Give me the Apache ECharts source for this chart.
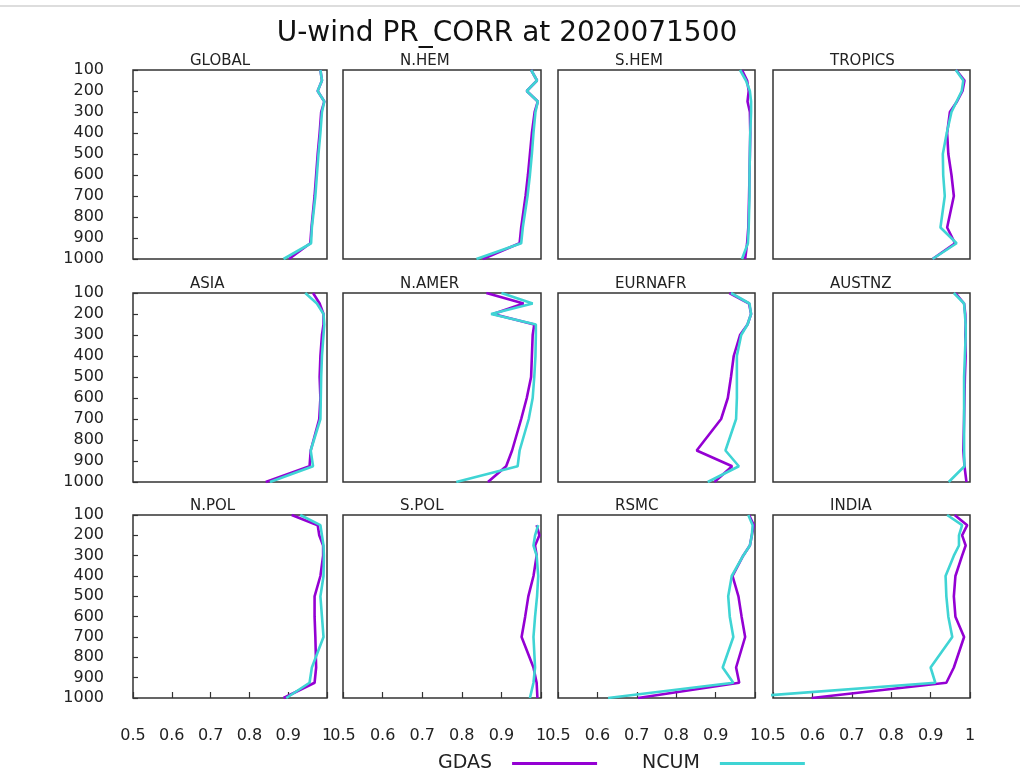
<!DOCTYPE html>
<html>
<head>
<meta charset="utf-8">
<script src="https://cdn.jsdelivr.net/npm/echarts@6/dist/echarts.min.js"></script>
<style>
  html, body { margin: 0; padding: 0; background: #fff; }
  #main { width: 1020px; height: 772px; }
</style>
</head>
<body>
<div id="main"></div>
<script>
// pressure levels (hPa)
var levels = [100, 150, 200, 250, 300, 400, 500, 600, 700, 850, 925, 1000];
var regions = ['GLOBAL', 'N.HEM', 'S.HEM', 'TROPICS',
               'ASIA', 'N.AMER', 'EURNAFR', 'AUSTNZ',
               'N.POL', 'S.POL', 'RSMC', 'INDIA'];
var xTicks = [0.5, 0.6, 0.7, 0.8, 0.9, 1];

// pattern correlation per region, one value per level
var gdas = {
  'GLOBAL':  [0.983, 0.987, 0.976, 0.993, 0.985, 0.981, 0.976, 0.972, 0.968, 0.960, 0.957, 0.902],
  'N.HEM':   [0.975, 0.990, 0.964, 0.992, 0.984, 0.977, 0.972, 0.967, 0.961, 0.950, 0.946, 0.853],
  'S.HEM':   [0.967, 0.980, 0.984, 0.981, 0.987, 0.988, 0.987, 0.986, 0.985, 0.983, 0.980, 0.975],
  'TROPICS': [0.965, 0.986, 0.981, 0.967, 0.949, 0.942, 0.945, 0.953, 0.959, 0.942, 0.962, 0.905],
  'ASIA':    [0.964, 0.981, 0.991, 0.991, 0.987, 0.983, 0.981, 0.983, 0.980, 0.958, 0.955, 0.842],
  'N.AMER':  [0.862, 0.956, 0.879, 0.983, 0.979, 0.977, 0.975, 0.964, 0.950, 0.927, 0.912, 0.866],
  'EURNAFR': [0.935, 0.985, 0.990, 0.981, 0.962, 0.946, 0.939, 0.931, 0.914, 0.852, 0.942, 0.897],
  'AUSTNZ':  [0.963, 0.985, 0.988, 0.989, 0.988, 0.989, 0.987, 0.986, 0.985, 0.983, 0.986, 0.991],
  'N.POL':   [0.909, 0.976, 0.980, 0.990, 0.990, 0.983, 0.968, 0.968, 0.970, 0.972, 0.968, 0.888],
  'S.POL':   [null, 0.989, 0.996, 0.985, 0.989, 0.981, 0.968, 0.960, 0.951, 0.981, 0.989, 0.991],
  'RSMC':    [0.985, 0.997, 0.992, 0.987, 0.970, 0.943, 0.958, 0.966, 0.975, 0.952, 0.960, 0.703],
  'INDIA':   [0.961, 0.993, 0.980, 0.989, 0.980, 0.963, 0.959, 0.963, 0.985, 0.959, 0.940, 0.598]
};
var ncum = {
  'GLOBAL':  [0.983, 0.987, 0.976, 0.993, 0.987, 0.983, 0.978, 0.974, 0.970, 0.961, 0.959, 0.888],
  'N.HEM':   [0.975, 0.990, 0.964, 0.992, 0.986, 0.981, 0.977, 0.972, 0.966, 0.954, 0.950, 0.837],
  'S.HEM':   [0.962, 0.977, 0.987, 0.990, 0.990, 0.988, 0.987, 0.986, 0.986, 0.984, 0.982, 0.967],
  'TROPICS': [0.964, 0.983, 0.979, 0.966, 0.953, 0.941, 0.931, 0.932, 0.936, 0.925, 0.966, 0.905],
  'ASIA':    [0.944, 0.974, 0.991, 0.993, 0.991, 0.987, 0.985, 0.984, 0.983, 0.958, 0.964, 0.853],
  'N.AMER':  [0.900, 0.979, 0.874, 0.987, 0.987, 0.986, 0.983, 0.979, 0.969, 0.946, 0.941, 0.786],
  'EURNAFR': [0.939, 0.986, 0.990, 0.981, 0.965, 0.954, 0.954, 0.954, 0.952, 0.925, 0.959, 0.880],
  'AUSTNZ':  [0.959, 0.985, 0.987, 0.989, 0.989, 0.987, 0.985, 0.985, 0.985, 0.985, 0.986, 0.946],
  'N.POL':   [0.931, 0.983, 0.987, 0.991, 0.992, 0.991, 0.983, 0.987, 0.991, 0.961, 0.955, 0.895],
  'S.POL':   [null, 0.993, 0.985, 0.981, 0.989, 0.993, 0.990, 0.985, 0.981, 0.985, 0.981, 0.972],
  'RSMC':    [0.983, 0.994, 0.992, 0.987, 0.970, 0.941, 0.932, 0.936, 0.945, 0.918, 0.945, 0.627],
  'INDIA':   [0.942, 0.980, 0.972, 0.972, 0.959, 0.938, 0.940, 0.945, 0.955, 0.900, 0.912, 0.400]
};

var GDAS_COLOR = '#9400d3';
var NCUM_COLOR = '#3fd4d4';
var FONT = '"DejaVu Sans", sans-serif';

var colLeft = [133, 343, 558, 773];
var colWidth = [194, 198, 197, 197];
var rowTop = [70, 293, 515];
var rowHeight = [189, 189, 183];

function profile(vals) {
  var out = [];
  vals.forEach(function (v, i) {
    if (v !== null) out.push([v, levels[i]]);
  });
  return out;
}

var grids = [], xAxes = [], yAxes = [], series = [];
var titles = [{
  text: 'U-wind PR_CORR at 2020071500',
  left: 507, top: 20, padding: 0, textAlign: 'center',
  textStyle: { fontFamily: FONT, fontSize: 28, fontWeight: 'normal', color: '#111' }
}];

regions.forEach(function (name, k) {
  var r = Math.floor(k / 4), c = k % 4;
  var isLeft = c === 0, isBottom = r === 2;
  grids.push({
    left: colLeft[c], top: rowTop[r], width: colWidth[c], height: rowHeight[r],
    show: true, borderColor: '#333', borderWidth: 1.5, backgroundColor: '#fff'
  });
  titles.push({
    text: name, left: colLeft[c] + 57, top: rowTop[r] - 16, padding: 0,
    textStyle: { fontFamily: FONT, fontSize: 15, fontWeight: 'normal', color: '#222' }
  });
  xAxes.push({
    type: 'value', gridIndex: k, min: 0.5, max: 1, interval: 0.1,
    axisLine: { show: false }, splitLine: { show: false },
    axisTick: { show: isBottom, inside: true, length: 6, lineStyle: { color: '#333', width: 1.2 } },
    axisLabel: {
      show: isBottom, margin: 30, fontFamily: FONT, fontSize: 16, color: '#222',
      formatter: function (v) { return String(+v.toFixed(1)); }
    }
  });
  yAxes.push({
    type: 'value', gridIndex: k, min: 100, max: 1000, interval: 100, inverse: true,
    axisLine: { show: false }, splitLine: { show: false },
    axisTick: { show: isLeft, inside: true, length: 5, lineStyle: { color: '#333', width: 1.2 } },
    axisLabel: {
      show: isLeft, margin: 29, fontFamily: FONT, fontSize: 16, color: '#222',
      formatter: function (v) { return String(Math.round(v)); }
    }
  });
  series.push({
    name: 'GDAS', type: 'line', xAxisIndex: k, yAxisIndex: k,
    data: profile(gdas[name]), symbol: 'none', clip: true,
    lineStyle: { color: GDAS_COLOR, width: 2.6 }, itemStyle: { color: GDAS_COLOR }
  });
  series.push({
    name: 'NCUM', type: 'line', xAxisIndex: k, yAxisIndex: k,
    data: profile(ncum[name]), symbol: 'none', clip: true,
    lineStyle: { color: NCUM_COLOR, width: 2.6 }, itemStyle: { color: NCUM_COLOR }
  });
});

var chart = echarts.init(document.getElementById('main'));
chart.setOption({
  animation: false,
  backgroundColor: '#fff',
  title: titles,
  grid: grids,
  xAxis: xAxes,
  yAxis: yAxes,
  legend: {
    data: ['GDAS', 'NCUM'],
    left: 433, top: 749,
    align: 'right', icon: 'rect',
    itemWidth: 85, itemHeight: 3, itemGap: 45,
    textStyle: { fontFamily: FONT, fontSize: 19, color: '#222', padding: [0, 15, 0, 0] }
  },
  graphic: [{
    type: 'line', shape: { x1: 0, y1: 6, x2: 1020, y2: 6 },
    style: { stroke: '#bbb', lineWidth: 1 }, silent: true
  }],
  series: series
});
</script>
</body>
</html>
